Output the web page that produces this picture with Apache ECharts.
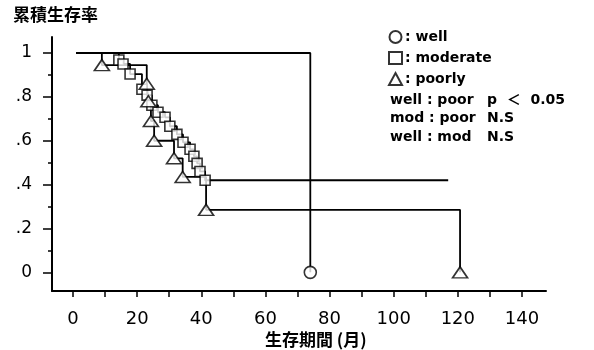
<!DOCTYPE html>
<html>
<head>
<meta charset="utf-8">
<script src="https://cdn.jsdelivr.net/npm/echarts@6/dist/echarts.min.js"></script>
<style>
  html, body { margin: 0; padding: 0; background: #fff; }
  #chart { width: 594px; height: 350px; }
</style>
</head>
<body>
<div id="chart"></div>
<script>
// Kaplan-Meier survival by differentiation grade (months vs cumulative survival)
const groupNames = ['well', 'moderate', 'poorly'];

// well: no events until 74 months
const wellStart = [1, 1];
const wellTimes = [74];
const wellSurv = [0];

// moderate: stepwise decline, last follow-up censored at 117 months
const modStart = [1, 1];
const modTimes = [14.3, 15.6, 17.8, 21.5, 23.1, 24.6, 26.5, 28.7, 30.2, 32.4, 34.3, 36.5, 37.7, 38.7, 39.6, 41.2];
const modSurv  = [0.968, 0.95, 0.904, 0.835, 0.808, 0.762, 0.73, 0.707, 0.666, 0.629, 0.593, 0.561, 0.529, 0.497, 0.46, 0.42];
const modCensorEnd = 117;

// poorly
const poorStart = [1, 1];
const poorTimes = [9, 23, 23.5, 24.3, 25.3, 31.5, 34.2, 41.5, 120.7];
const poorSurv  = [0.945, 0.86, 0.78, 0.69, 0.6, 0.52, 0.435, 0.285, 0];

// axis ticks and labels
const xTickValues = [0, 10, 20, 30, 40, 50, 60, 70, 80, 90, 100, 110, 120, 130, 140];
const xLabelValues = [0, 20, 40, 60, 80, 100, 120, 140];
const yMajorValues = [0, 0.2, 0.4, 0.6, 0.8, 1];
const yMinorValues = [0.1, 0.3, 0.5, 0.7, 0.9];
const yLabelText = { '0': '0', '0.2': '.2', '0.4': '.4', '0.6': '.6', '0.8': '.8', '1': '1' };

const statRows = [
  ['well : poor', 'p  ＜  0.05'],
  ['mod : poor', 'N.S'],
  ['well : mod', 'N.S']
];

function zipPts(ts, vs) { return ts.map((t, i) => [t, vs[i]]); }

const wellEvents = zipPts(wellTimes, wellSurv);
const modEvents = zipPts(modTimes, modSurv);
const poorEvents = zipPts(poorTimes, poorSurv);

const wellCurve = [wellStart].concat(wellEvents);
const modCurve = [modStart].concat(modEvents, [[modCensorEnd, modSurv[modSurv.length - 1]]]);
const poorCurve = [poorStart].concat(poorEvents);

const INK = '#000';
const FONT = 'DejaVu Sans';
const CJK = 'Noto Sans CJK JP';

function curve(name, data) {
  return {
    name: name, type: 'line', step: 'end', data: data,
    symbol: 'none', lineStyle: { color: INK, width: 1.8 },
    silent: true, z: 2
  };
}
function marks(name, data, symbol, size) {
  return {
    name: name, type: 'scatter', data: data, symbol: symbol, symbolSize: size,
    itemStyle: { color: '#fff', borderColor: INK, borderWidth: 1.6 },
    z: 3
  };
}

const chart = echarts.init(document.getElementById('chart'), null, { renderer: 'canvas' });

const option = {
  animation: false,
  backgroundColor: '#fff',
  grid: { left: 52, right: 48, top: 37, bottom: 59, outerBoundsMode: 'none' },
  legend: {
    data: groupNames,
    orient: 'vertical',
    left: 383, top: 25,
    itemWidth: 13, itemHeight: 12, itemGap: 7,
    selectedMode: false,
    formatter: n => ': ' + n,
    textStyle: { fontFamily: FONT, fontWeight: 'bold', fontSize: 14, color: INK, padding: [0, 0, 0, -2] }
  },
  xAxis: {
    type: 'value', min: -6.55, max: 147.5,
    axisLine: { show: true, onZero: false, lineStyle: { color: INK, width: 2 } },
    axisTick: { show: true, customValues: xTickValues, length: 6, lineStyle: { color: INK, width: 1.5 } },
    axisLabel: {
      customValues: xLabelValues, margin: 19,
      fontFamily: FONT, fontSize: 18, color: INK,
      formatter: v => String(v)
    },
    splitLine: { show: false }
  },
  yAxis: [{
    type: 'value', min: -0.085, max: 1.073,
    axisLine: { show: true, onZero: false, lineStyle: { color: INK, width: 2 } },
    axisTick: { show: true, customValues: yMajorValues, length: 9, lineStyle: { color: INK, width: 1.5 } },
    axisLabel: {
      customValues: yMajorValues, margin: 20,
      fontFamily: FONT, fontSize: 17, color: INK, padding: [10, 0, 0, 0],
      formatter: v => yLabelText[String(+v.toFixed(1))]
    },
    splitLine: { show: false }
  }, {
    type: 'value', min: -0.085, max: 1.073, position: 'left', offset: 0,
    axisLine: { show: false, onZero: false },
    axisTick: { show: true, customValues: yMinorValues, length: 4, lineStyle: { color: INK, width: 1.5 } },
    axisLabel: { show: false },
    splitLine: { show: false }
  }],
  graphic: [
    { type: 'text', left: 13, top: 6, style: { text: '累積生存率', font: 'bold 17px "' + CJK + '"', fill: INK } },
    { type: 'text', left: 265, top: 331, style: { text: '生存期間 (月)', font: 'bold 17px "' + CJK + '"', fill: INK } }
  ].concat(statRows.flatMap((r, i) => [
    { type: 'text', left: 390, top: 93 + i * 18.5, style: { text: r[0], font: 'bold 14px "' + FONT + '"', fill: INK } },
    { type: 'text', left: 487, top: 93 + i * 18.5, style: { text: r[1], font: 'bold 14px "' + FONT + '", "' + CJK + '"', fill: INK } }
  ])),
  series: [
    curve('well curve', wellCurve),
    curve('moderate curve', modCurve),
    curve('poorly curve', poorCurve),
    marks('well', wellEvents, 'circle', 12),
    marks('moderate', modEvents, 'rect', 10),
    marks('poorly', poorEvents, 'triangle', [15, 11])
  ]
};
chart.setOption(option);
</script>
</body>
</html>
